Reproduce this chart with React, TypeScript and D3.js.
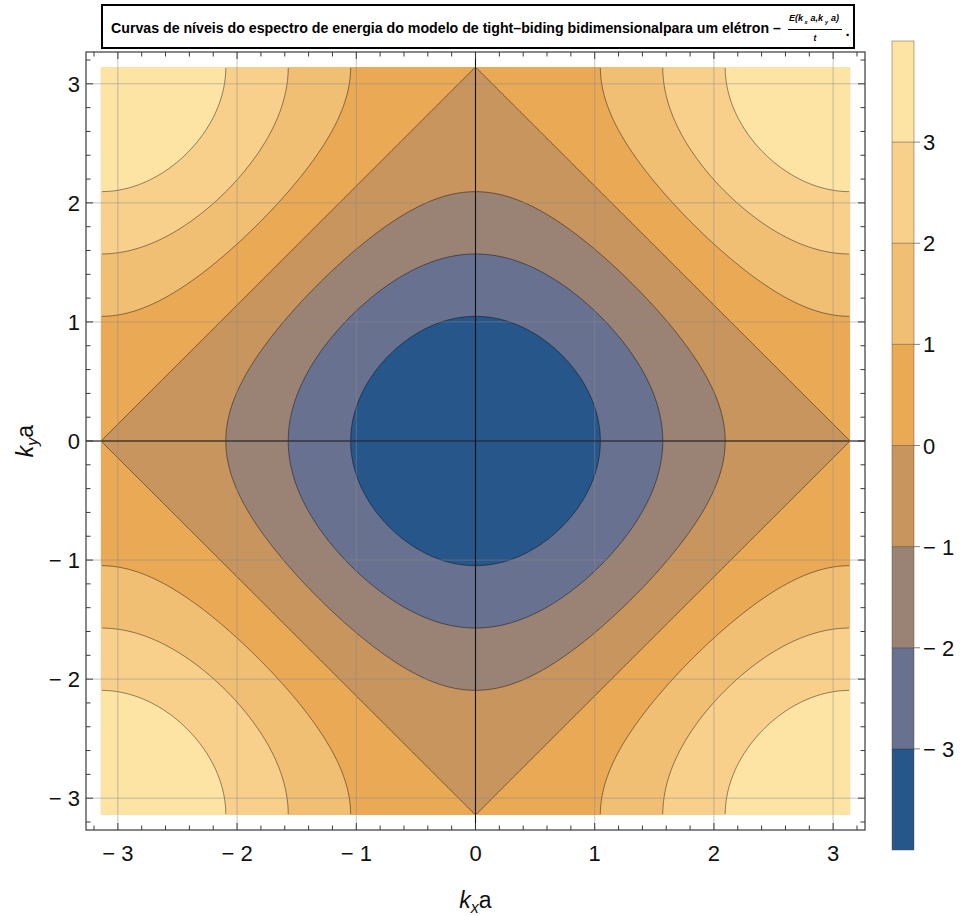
import React, { useLayoutEffect, useMemo, useRef, useState } from 'react';
import * as d3 from 'd3';

// contour levels of E/t and the colour of each band (lower bound -> colour)
const contourLevels = [-3, -2, -1, 0, 1, 2, 3];
const bandLowerBounds = [-4, -3, -2, -1, 0, 1, 2, 3];
const bandColors = ['#26568a', '#68718f', '#9a8274', '#c8955e', '#e9a955', '#f0bf74', '#f8d08b', '#fde4a5'];
const colorbarRange = [-4, 4];

// axis ticks
const axisTicks = [-3, -2, -1, 0, 1, 2, 3];
const axisTickLabels = ['\u2212 3', '\u2212 2', '\u2212 1', '0', '1', '2', '3'];
const colorbarTicks = [-3, -2, -1, 0, 1, 2, 3];
const colorbarTickLabels = ['\u2212 3', '\u2212 2', '\u2212 1', '0', '1', '2', '3'];

const titleText = 'Curvas de níveis do espectro de energia do modelo de tight–biding bidimensionalpara um elétron –';

const hopping = 1; // t
const kMax = Math.PI; // k a runs over the first Brillouin zone
const plotPad = 0.02; // Mathematica-like plot range padding
const N = 480;

const FONT = 'Liberation Sans, Arial, Helvetica, sans-serif';

const App = () => {
  const W = 960;
  const H = 916;
  const frame = { left: 86, right: 865, top: 52, bottom: 830 };
  const lim = kMax * (1 + 2 * plotPad);

  const x = d3.scaleLinear().domain([-lim, lim]).range([frame.left, frame.right]);
  const y = d3.scaleLinear().domain([-lim, lim]).range([frame.bottom, frame.top]);
  const cb = d3.scaleLinear().domain(colorbarRange).range([850, 41]);

  const titleRef = useRef<SVGTextElement>(null);
  const [titleScale, setTitleScale] = useState(0.85);
  useLayoutEffect(() => {
    if (titleRef.current) {
      const len = titleRef.current.getComputedTextLength();
      if (len > 0) setTitleScale(670 / len);
    }
  }, []);

  const { fills } = useMemo(() => {
    const step = (2 * kMax) / N;
    const values = new Array(N * N);
    for (let j = 0; j < N; j++) {
      const ky = kMax - (j + 0.5) * step;
      for (let i = 0; i < N; i++) {
        const kx = -kMax + (i + 0.5) * step;
        values[j * N + i] = -2 * hopping * (Math.cos(kx) + Math.cos(ky));
      }
    }
    const polys = d3.contours().size([N, N]).thresholds(bandLowerBounds)(values);
    const x0 = x(-kMax), x1 = x(kMax), y0 = y(kMax), y1 = y(-kMax);
    const proj = d3.geoTransform({
      point(px: number, py: number) {
        // @ts-ignore
        this.stream.point(x0 + (px / N) * (x1 - x0), y0 + (py / N) * (y1 - y0));
      },
    });
    const path = d3.geoPath(proj);
    return { fills: polys.map((p) => ({ value: p.value, d: path(p) || '' })) };
  }, []);

  const minorTicks = d3.range(-16, 17).map((v) => v / 5).filter((v) => Math.abs(v - Math.round(v)) > 1e-6);
  const frameColor = '#3a3a3a';

  const xr = [x(-kMax), x(kMax)];
  const yr = [y(kMax), y(-kMax)];

  const numFont = { fontSize: 9, fontWeight: 'bold' as const, fontStyle: 'italic' as const };
  const subFont = { fontSize: 5.5, fontWeight: 'bold' as const, fontStyle: 'italic' as const };

  return (
    <div style={{ position: 'absolute', left: 0, top: 0 }}>
      <svg width={W} height={H} style={{ display: 'block', background: '#fff' }} fontFamily={FONT}>
        <defs>
          <clipPath id="lineClip">
            <rect x={xr[0] + 1} y={yr[0] + 1} width={xr[1] - xr[0] - 2} height={yr[1] - yr[0] - 2} />
          </clipPath>
        </defs>

        {/* filled bands */}
        <g>
          {fills.map((f, i) => (
            <path key={i} d={f.d} fill={bandColors[i]} stroke="none" />
          ))}
        </g>
        {/* contour lines */}
        <g clipPath="url(#lineClip)">
          {fills
            .filter((f) => contourLevels.includes(f.value))
            .map((f, i) => (
              <path key={i} d={f.d} fill="none" stroke="rgba(0,0,0,0.55)" strokeWidth={0.8} />
            ))}
        </g>

        {/* grid lines */}
        <g stroke="rgba(140,140,140,0.5)" strokeWidth={1}>
          {axisTicks.map((t) => (
            <line key={'gx' + t} x1={x(t)} x2={x(t)} y1={frame.top} y2={frame.bottom} />
          ))}
          {axisTicks.map((t) => (
            <line key={'gy' + t} x1={frame.left} x2={frame.right} y1={y(t)} y2={y(t)} />
          ))}
        </g>

        {/* axes through the origin */}
        <g stroke="#111" strokeWidth={1.1}>
          <line x1={frame.left} x2={frame.right} y1={y(0)} y2={y(0)} />
          <line x1={x(0)} x2={x(0)} y1={frame.top} y2={frame.bottom} />
        </g>

        {/* frame and ticks */}
        <rect x={frame.left} y={frame.top} width={frame.right - frame.left} height={frame.bottom - frame.top} fill="none" stroke={frameColor} strokeWidth={1.2} />
        <g stroke={frameColor} strokeWidth={1}>
          {axisTicks.map((t) => (
            <g key={'mt' + t}>
              <line x1={x(t)} x2={x(t)} y1={frame.bottom} y2={frame.bottom - 7} />
              <line x1={x(t)} x2={x(t)} y1={frame.top} y2={frame.top + 7} />
              <line x1={frame.left} x2={frame.left + 7} y1={y(t)} y2={y(t)} />
              <line x1={frame.right} x2={frame.right - 7} y1={y(t)} y2={y(t)} />
            </g>
          ))}
          {minorTicks.map((t) => (
            <g key={'nt' + t}>
              <line x1={x(t)} x2={x(t)} y1={frame.bottom} y2={frame.bottom - 4.5} />
              <line x1={x(t)} x2={x(t)} y1={frame.top} y2={frame.top + 4.5} />
              <line x1={frame.left} x2={frame.left + 4.5} y1={y(t)} y2={y(t)} />
              <line x1={frame.right} x2={frame.right - 4.5} y1={y(t)} y2={y(t)} />
            </g>
          ))}
        </g>

        {/* tick labels */}
        <g fontSize={22} fill="#111">
          {axisTicks.map((t, i) => (
            <text key={'xl' + t} x={x(t)} y={861} textAnchor="middle">{axisTickLabels[i]}</text>
          ))}
          {axisTicks.map((t, i) => (
            <text key={'yl' + t} x={80} y={y(t) + 8} textAnchor="end">{axisTickLabels[i]}</text>
          ))}
        </g>

        {/* axis labels */}
        <text x={x(0)} y={908} textAnchor="middle" fontSize={23} fill="#111">
          <tspan fontStyle="italic">k</tspan>
          <tspan fontStyle="italic" fontSize={16} dy={5}>x</tspan>
          <tspan dy={-5}>a</tspan>
        </text>
        <text transform={`translate(33,${y(0)}) rotate(-90)`} textAnchor="middle" fontSize={23} fill="#111">
          <tspan fontStyle="italic">k</tspan>
          <tspan fontStyle="italic" fontSize={16} dy={5}>y</tspan>
          <tspan dy={-5}>a</tspan>
        </text>

        {/* colour bar */}
        <g>
          {bandLowerBounds.map((b, i) => (
            <rect key={'cb' + b} x={892} y={cb(b + 1)} width={22} height={cb(b) - cb(b + 1)} fill={bandColors[i]} />
          ))}
          {colorbarTicks.map((t) => (
            <line key={'cbl' + t} x1={892} x2={914} y1={cb(t)} y2={cb(t)} stroke="rgba(0,0,0,0.45)" strokeWidth={0.8} />
          ))}
          {colorbarTicks.map((t) => (
            <line key={'cbt' + t} x1={914} x2={920} y1={cb(t)} y2={cb(t)} stroke="#888" strokeWidth={1} />
          ))}
          <rect x={892} y={cb(4)} width={22} height={cb(-4) - cb(4)} fill="none" stroke="rgba(90,70,40,0.45)" strokeWidth={1} />
          <g fontSize={22} fill="#111">
            {colorbarTicks.map((t, i) => (
              <text key={'cbtx' + t} x={923} y={cb(t) + 8}>{colorbarTickLabels[i]}</text>
            ))}
          </g>
        </g>

        {/* title box */}
        <rect x={102} y={5} width={752} height={43} fill="#fff" stroke="#000" strokeWidth={2} />
        <text ref={titleRef} transform={`translate(111,33) scale(${titleScale},1)`} fontSize={15.5} fontWeight="bold" fill="#000">
          {titleText}
        </text>
        <g fill="#000">
          <text x={789} y={21} {...numFont}>E(k</text>
          <text x={804.5} y={23.5} {...subFont}>x</text>
          <text x={810.5} y={21} {...numFont}>a,k</text>
          <text x={825} y={23.5} {...subFont}>y</text>
          <text x={831} y={21} {...numFont}>a)</text>
        </g>
        <line x1={788} x2={842} y1={29.5} y2={29.5} stroke="#000" strokeWidth={1} />
        <text x={815} y={41} textAnchor="middle" fontSize={8.5} fontWeight="bold" fontStyle="italic" fill="#000">t</text>
        <text x={845.5} y={36} fontSize={15} fontWeight="bold" fill="#000">.</text>
      </svg>
    </div>
  );
};

export default App;
